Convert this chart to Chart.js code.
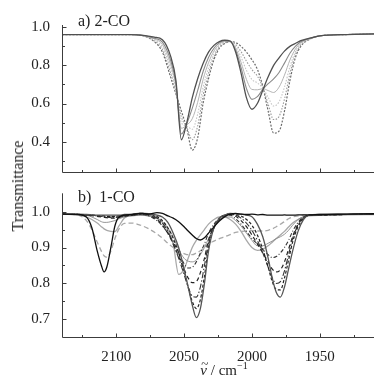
<!DOCTYPE html>
<html><head><meta charset="utf-8">
<script src="https://cdn.jsdelivr.net/npm/chart.js@4.4.1/dist/chart.umd.min.js"></script>
<style>
html,body{margin:0;padding:0;background:#fff;width:374px;height:378px;overflow:hidden;}
#wrap{position:relative;width:374px;height:378px;font-family:'Liberation Serif','Times New Roman',serif;color:#222;}
canvas{position:absolute;left:0;top:0;}
#ytitle{position:absolute;left:18px;top:186px;transform:translate(-50%,-50%) rotate(-90deg);font-size:16px;white-space:nowrap;line-height:1;}
#xtitle{position:absolute;left:224px;top:370px;transform:translate(-50%,-50%);font-size:15px;white-space:nowrap;line-height:1;}
#xtitle sup{font-size:10px;vertical-align:6px;line-height:0;}
.nu{position:relative;display:inline-block;line-height:1;}
.tl{position:absolute;left:1px;top:-6px;font-size:13px;font-style:normal;line-height:1;}
</style></head>
<body><div id="wrap">
<canvas id="c1" width="374" height="378"></canvas>
<canvas id="c2" width="374" height="378"></canvas>
<div id="ytitle">Transmittance</div>
<div id="xtitle"><span class="nu"><i>ν</i><span class="tl">~</span></span> / cm<sup>−1</sup></div>
</div>
<script>
// ---------- data: panel a) 2-CO ----------
const topWavenumbers = [2140, 2090, 2080, 2072, 2066, 2060, 2056, 2052, 2048, 2044, 2040, 2036, 2032, 2028, 2024, 2020, 2016, 2012, 2008, 2004, 2000, 1996, 1992, 1988, 1984, 1980, 1976, 1972, 1968, 1964, 1958, 1950, 1930, 1910];
const topA = [.962, .962, .958, .948, .935, .85, .72, .41, .50, .63, .73, .81, .87, .905, .925, .932, .928, .87, .76, .63, .57, .60, .67, .74, .80, .84, .875, .90, .915, .93, .942, .955, .962, .965];
const topB = [.962, .962, .957, .943, .922, .828, .706, .44, .494, .575, .668, .768, .842, .89, .918, .929, .927, .88, .788, .678, .622, .636, .674, .704, .729, .763, .812, .864, .9, .924, .94, .955, .962, .965];
const topC = [.962, .962, .957, .939, .909, .806, .692, .47, .488, .52, .606, .726, .814, .875, .911, .925, .927, .89, .816, .726, .674, .672, .678, .668, .658, .686, .749, .828, .885, .918, .939, .955, .962, .965];
const topD = [.962, .962, .956, .934, .896, .784, .678, .50, .482, .465, .544, .684, .786, .86, .904, .922, .926, .9, .844, .774, .726, .708, .682, .632, .587, .609, .686, .792, .87, .912, .937, .955, .962, .965];
const topE = [.962, .962, .956, .93, .883, .762, .664, .53, .476, .41, .482, .642, .758, .845, .897, .918, .926, .91, .872, .822, .778, .744, .686, .596, .516, .532, .623, .756, .855, .906, .936, .955, .962, .965];
const topG = [.962, .962, .955, .925, .87, .74, .65, .56, .47, .355, .42, .60, .73, .83, .89, .915, .925, .92, .90, .87, .83, .78, .69, .56, .445, .455, .56, .72, .84, .90, .935, .955, .962, .965];

// ---------- data: panel b) 1-CO ----------
const bottomWavenumbers = [2140, 2128, 2122, 2118, 2114, 2111, 2109, 2107, 2104, 2101, 2098, 2094, 2088, 2082, 2076, 2070, 2066, 2062, 2058, 2054, 2050, 2047, 2044, 2041, 2038, 2035, 2032, 2028, 2024, 2020, 2016, 2012, 2008, 2004, 2000, 1996, 1992, 1988, 1985, 1982, 1979, 1976, 1973, 1970, 1966, 1962, 1958, 1950, 1930, 1910];
const botK1 = [.993, .992, .985, .955, .89, .85, .832, .845, .9, .96, .985, .99, .992, .995, .993, .997, .995, .988, .982, .972, .958, .946, .935, .925, .921, .927, .94, .957, .974, .986, .993, .995, .993, .992, .993, .991, .992, .99, .99, .99, .99, .991, .99, .99, .991, .991, .991, .992, .993, .994];
const botK2 = [.993, .99, .975, .95, .915, .89, .877, .873, .89, .925, .952, .967, .968, .962, .952, .938, .926, .912, .9, .89, .883, .88, .88, .885, .891, .9, .91, .918, .925, .93, .936, .942, .945, .946, .947, .946, .946, .948, .952, .958, .965, .972, .98, .985, .988, .99, .99, .991, .992, .993];
const botK3 = [.993, .99, .985, .978, .968, .958, .952, .948, .945, .944, .96, .982, .99, .99, .988, .982, .97, .95, .91, .825, .84, .87, .9, .92, .935, .95, .965, .978, .985, .985, .978, .965, .945, .92, .9, .892, .895, .905, .915, .925, .935, .945, .957, .968, .978, .985, .988, .99, .991, .992];
const botK4 = [.993, .992, .99, .985, .978, .972, .97, .97, .972, .975, .98, .985, .988, .99, .988, .982, .972, .955, .93, .895, .87, .862, .86, .865, .88, .9, .925, .955, .975, .985, .985, .975, .96, .94, .92, .905, .905, .912, .918, .925, .93, .937, .948, .962, .978, .986, .99, .991, .992, .993];
const botK5 = [.993, .992, .99, .99, .988, .987, .986, .985, .984, .984, .985, .988, .99, .992, .988, .975, .96, .94, .915, .885, .855, .843, .845, .86, .885, .91, .94, .965, .982, .99, .99, .98, .965, .945, .925, .91, .895, .88, .872, .875, .885, .9, .92, .945, .97, .985, .99, .991, .992, .993];
const botK6 = [.993, .992, .99, .989, .987, .985, .984, .983, .982, .982, .984, .987, .99, .993, .99, .978, .962, .94, .91, .875, .84, .815, .802, .805, .83, .87, .92, .958, .98, .99, .992, .987, .975, .958, .935, .91, .885, .86, .84, .832, .838, .86, .895, .93, .965, .983, .99, .991, .992, .993];
const botK7 = [.993, .992, .991, .99, .988, .987, .986, .985, .985, .985, .986, .988, .991, .994, .992, .982, .968, .945, .91, .87, .825, .79, .765, .762, .79, .85, .91, .955, .98, .99, .993, .99, .982, .968, .948, .92, .885, .845, .815, .8, .805, .835, .88, .925, .962, .982, .99, .991, .992, .993];
const botK8 = [.993, .992, .991, .99, .989, .988, .988, .987, .987, .987, .988, .99, .992, .995, .993, .986, .975, .955, .925, .885, .835, .79, .75, .73, .755, .82, .9, .955, .98, .991, .994, .992, .988, .978, .962, .935, .895, .845, .805, .783, .782, .815, .865, .915, .958, .98, .99, .991, .992, .993];
const botK9 = [.993, .993, .992, .991, .99, .99, .99, .99, .99, .99, .99, .992, .993, .996, .994, .99, .985, .97, .94, .9, .84, .79, .74, .705, .73, .8, .89, .955, .982, .99, .995, .994, .993, .99, .986, .965, .93, .87, .815, .775, .762, .79, .84, .89, .945, .978, .99, .992, .993, .994];

// ---------- ticks ----------
const xMajorTicks = [2100, 2050, 2000, 1950];
const xMinorTicks = [2125, 2075, 2025, 1975, 1925];
const topYMajorTicks = [0.4, 0.6, 0.8, 1.0];
const topYMinorTicks = [0.3, 0.5, 0.7, 0.9];
const bottomYMajorTicks = [0.7, 0.8, 0.9, 1.0];
const bottomYMinorTicks = [0.75, 0.85, 0.95];

const FONT = "'Liberation Serif','Times New Roman',serif";

function pts(xs, ys) { return xs.map((x, i) => ({x: x, y: ys[i]})); }

const axesTicks = {
  id: 'axesTicks',
  afterDatasetsDraw(chart, args, o) {
    const ctx = chart.ctx, a = chart.chartArea;
    const xs = chart.scales.x, ys = chart.scales.y;
    ctx.save();
    ctx.strokeStyle = '#3c3c3c';
    ctx.lineWidth = 1;
    ctx.beginPath();
    const L = Math.round(a.left) + 0.5, B = Math.round(a.bottom) + 0.5;
    ctx.moveTo(L, a.top); ctx.lineTo(L, B); ctx.lineTo(a.right, B);
    o.xMajor.forEach(v => { const p = Math.round(xs.getPixelForValue(v)) + 0.5; ctx.moveTo(p, B); ctx.lineTo(p, B - 4); });
    o.xMinor.forEach(v => { const p = Math.round(xs.getPixelForValue(v)) + 0.5; ctx.moveTo(p, B); ctx.lineTo(p, B - 2.5); });
    o.yMajor.forEach(v => { const p = Math.round(ys.getPixelForValue(v)) + 0.5; ctx.moveTo(L, p); ctx.lineTo(L + 4, p); });
    o.yMinor.forEach(v => { const p = Math.round(ys.getPixelForValue(v)) + 0.5; ctx.moveTo(L, p); ctx.lineTo(L + 2.5, p); });
    ctx.stroke();
    ctx.fillStyle = '#222';
    ctx.font = '16px ' + FONT;
    ctx.textBaseline = 'alphabetic';
    ctx.textAlign = 'left';
    ctx.fillText(o.label, o.lx, o.ly);
    ctx.restore();
  }
};

function ds(xs, ys, color, width, dash) {
  return {data: pts(xs, ys), borderColor: color, borderWidth: width, borderDash: dash || [], pointRadius: 0, fill: false, cubicInterpolationMode: 'monotone'};
}

function makeChart(id, datasets, yMin, yMax, padTop, padBottom, xHeight, showXLabels, yMajor, yMinor, label, lx, ly) {
  return new Chart(document.getElementById(id), {
    type: 'line',
    data: {datasets: datasets},
    options: {
      responsive: false, animation: false, devicePixelRatio: 1,
      layout: {padding: {top: padTop, bottom: padBottom, left: 0, right: 0}},
      plugins: {legend: {display: false}, tooltip: {enabled: false},
        axesTicks: {xMajor: xMajorTicks, xMinor: xMinorTicks, yMajor: yMajor, yMinor: yMinor, label: label, lx: lx, ly: ly}},
      scales: {
        x: {type: 'linear', reverse: true, min: 1910, max: 2140,
          grid: {display: false}, border: {display: false},
          afterBuildTicks: s => { s.ticks = xMajorTicks.map(v => ({value: v})); },
          ticks: {display: showXLabels, padding: 3, color: '#222', font: {family: FONT, size: 15}, maxRotation: 0, autoSkip: false, callback: v => String(v)},
          afterFit: s => { s.height = xHeight; }},
        y: {type: 'linear', min: yMin, max: yMax,
          grid: {display: false}, border: {display: false},
          afterBuildTicks: s => { s.ticks = yMajor.map(v => ({value: v})); },
          ticks: {padding: 4, color: '#222', font: {family: FONT, size: 15}, callback: v => Number(v).toFixed(1)},
          afterFit: s => { s.width = 62; }}
      }
    },
    plugins: [axesTicks]
  });
}

const topSets = [
  ds(topWavenumbers, topA, '#505050', 1.3),
  ds(topWavenumbers, topB, '#8a8a8a', 1.1),
  ds(topWavenumbers, topC, '#b4b4b4', 1.0),
  ds(topWavenumbers, topD, '#c4c4c4', 1.1, [1.5, 1.5]),
  ds(topWavenumbers, topE, '#9a9a9a', 1.1, [1.5, 1.5]),
  ds(topWavenumbers, topG, '#6a6a6a', 1.2, [2, 1.5])
];
makeChart('c1', topSets, 0.2425, 1.012, 25, 206.3, 0, false, topYMajorTicks, topYMinorTicks, 'a) 2-CO', 78, 26);

const bottomSets = [
  ds(bottomWavenumbers, botK1, '#111111', 1.3),
  ds(bottomWavenumbers, botK9, '#555555', 1.3),
  ds(bottomWavenumbers, botK8, '#222222', 1.2, [3, 2]),
  ds(bottomWavenumbers, botK7, '#333333', 1.1, [6, 2, 1.5, 2]),
  ds(bottomWavenumbers, botK6, '#222222', 1.2, [4, 3]),
  ds(bottomWavenumbers, botK5, '#333333', 1.1, [4, 2, 1, 2]),
  ds(bottomWavenumbers, botK4, '#8a8a8a', 0.9),
  ds(bottomWavenumbers, botK3, '#a8a8a8', 1.3),
  ds(bottomWavenumbers, botK2, '#a8a8a8', 1.3, [5, 3])
];
makeChart('c2', bottomSets, 0.65, 1.051, 193.3, 0, 40.7, true, bottomYMajorTicks, bottomYMinorTicks, 'b)  1-CO', 78, 202);
</script>
</body></html>
